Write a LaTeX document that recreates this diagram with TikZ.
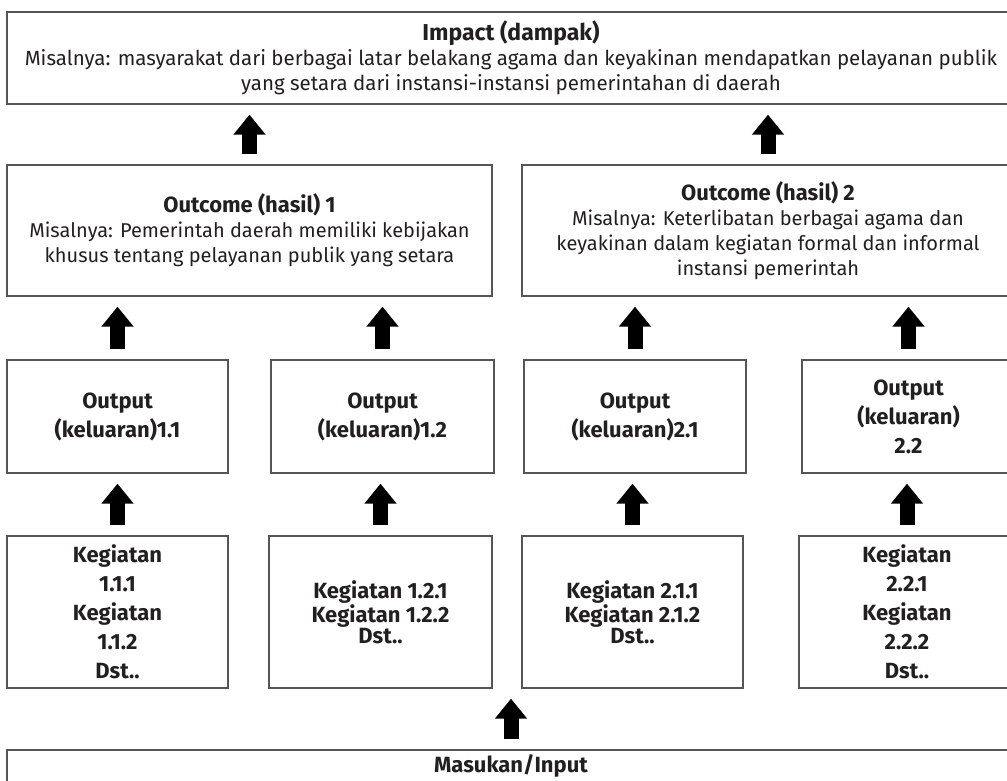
\documentclass[tikz,border=0pt]{standalone}
\usepackage{fontspec}
\setmainfont{Fira Sans}
\usetikzlibrary{arrows.meta,positioning}
\definecolor{garis}{RGB}{85,85,85}
\definecolor{tinta}{RGB}{35,31,32}

\begin{document}
\begin{tikzpicture}[
  x=1pt, y=-1pt,
  kotak/.style={draw=garis, line width=1.3pt, text=tinta, align=center,
                inner sep=0pt, font=\fontsize{20}{25}\selectfont},
  tebal/.style={kotak, font=\fontsize{22}{29}\selectfont\bfseries},
  rapat/.style={kotak, font=\fontsize{22}{21}\selectfont\bfseries},
  panah/.style={-{Triangle[length=20pt, width=31pt]}, line width=15pt,
                shorten <=10pt, shorten >=10pt}
]
\useasboundingbox (0,0) rectangle (1007,781);
\clip (0,0) rectangle (1007,781);

% ---------- Impact -------------------------------------------------
\node[kotak, minimum width=1008pt, minimum height=92pt,
      font=\fontsize{20.5}{25}\selectfont] (impact) at (511,58)
  {{\fontsize{23}{25}\selectfont\bfseries Impact (dampak)}\\
   Misalnya: masyarakat dari berbagai latar belakang agama dan keyakinan mendapatkan pelayanan publik\\
   yang setara dari instansi-instansi pemerintahan di daerah};

% ---------- Outcome ------------------------------------------------
\node[kotak, minimum width=485pt, minimum height=131pt] (hasil1) at (249.5,230.5)
  {{\fontsize{22}{25}\selectfont\bfseries Outcome (hasil) 1}\\
   Misalnya: Pemerintah daerah memiliki kebijakan\\
   khusus tentang pelayanan publik yang setara};
\node[kotak, minimum width=492pt, minimum height=131pt] (hasil2) at (768,230.5)
  {{\fontsize{22}{25}\selectfont\bfseries Outcome (hasil) 2}\\
   Misalnya: Keterlibatan berbagai agama dan\\
   keyakinan dalam kegiatan formal dan informal\\
   instansi pemerintah};

% ---------- Output -------------------------------------------------
\node[tebal, minimum width=221pt, minimum height=113pt] (out11) at (117.5,416.5)
  {Output\\(keluaran)1.1};
\node[tebal, minimum width=223pt, minimum height=113pt] (out12) at (382.5,416.5)
  {Output\\(keluaran)1.2};
\node[tebal, minimum width=222pt, minimum height=113pt] (out21) at (635,416.5)
  {Output\\(keluaran)2.1};
\node[tebal, minimum width=213pt, minimum height=113pt] (out22) at (908.5,416.5)
  {Output\\(keluaran)\\2.2};

% ---------- Kegiatan -----------------------------------------------
\node[tebal, minimum width=221pt, minimum height=152pt] (keg11) at (117.5,612)
  {Kegiatan\\1.1.1\\Kegiatan\\1.1.2\\Dst..};
\node[rapat, minimum width=223pt, minimum height=152pt] (keg12) at (380.5,612)
  {Kegiatan 1.2.1\\Kegiatan 1.2.2\\Dst..};
\node[rapat, minimum width=221pt, minimum height=152pt] (keg21) at (632.5,612)
  {Kegiatan 2.1.1\\Kegiatan 2.1.2\\Dst..};
\node[tebal, minimum width=216pt, minimum height=152pt] (keg22) at (907,612)
  {Kegiatan\\2.2.1\\Kegiatan\\2.2.2\\Dst..};

% ---------- Input --------------------------------------------------
\node[kotak, minimum width=1008pt, minimum height=100pt] (input) at (511,800) {};
\node[tinta, font=\fontsize{22}{24}\selectfont\bfseries] (inputlbl) at (511,766) {Masukan/Input};

% ---------- Panah --------------------------------------------------
\draw[panah] (hasil1.north) -- (hasil1.north |- impact.south);
\draw[panah] (hasil2.north) -- (hasil2.north |- impact.south);
\foreach \o/\h in {out11/hasil1, out12/hasil1, out21/hasil2, out22/hasil2}
  \draw[panah] (\o.north) -- (\o.north |- \h.south);
\foreach \k/\o in {keg11/out11, keg12/out12, keg21/out21, keg22/out22}
  \draw[panah] (\k.north) -- (\k.north |- \o.south);
\coordinate (celah) at (keg12.south -| input.north);
\draw[panah] (input.north) -- (celah);

\end{tikzpicture}
\end{document}
